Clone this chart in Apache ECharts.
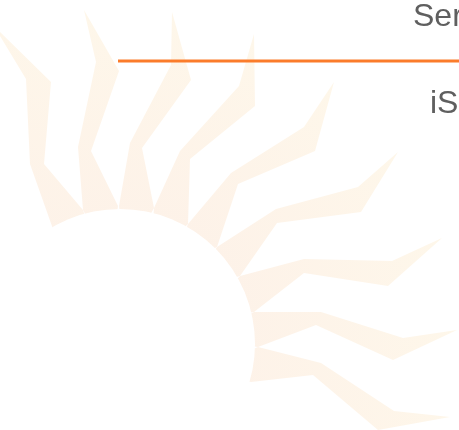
<!DOCTYPE html>
<html>
<head>
<meta charset="utf-8">
<script src="https://cdn.jsdelivr.net/npm/echarts@6/dist/echarts.min.js"></script>
<style>
  html, body { margin: 0; padding: 0; background: #fff; }
  #main { width: 459px; height: 430px; }
</style>
</head>
<body>
<div id="main"></div>
<script>
// 光芒 (每条射线的顶点，坐标为画布刻度)
var ray1 = [[-6, 26], [51, 82], [44, 164], [83, 210], [100, 260], [53, 229], [30, 164], [26, 79]];
var ray2 = [[84, 10], [119, 71], [91, 151], [118, 206], [110, 260], [83, 210], [78, 147], [96, 62]];
var ray3 = [[172, 12], [191, 80], [142, 148], [154, 208], [125, 260], [119, 206], [130, 143], [171, 65]];
var ray4 = [[254, 34], [255, 106], [190, 159], [188, 224], [150, 260], [154, 208], [180, 151], [239, 86]];
var ray5 = [[334, 82], [315, 151], [238, 184], [217, 247], [170, 270], [188, 224], [231, 173], [304, 127]];
var ray6 = [[398, 152], [361, 212], [277, 223], [240, 276], [190, 290], [217, 247], [276, 209], [358, 187]];
var ray7 = [[442, 238], [388, 286], [304, 273], [254, 312], [200, 320], [240, 276], [304, 259], [392, 261]];
var ray8 = [[457, 330], [393, 360], [316, 325], [258, 347], [200, 340], [254, 312], [321, 312], [403, 338]];
var ray9 = [[450, 417], [378, 430], [313, 375], [251, 382], [200, 370], [258, 347], [321, 363], [394, 411]];
var rays = [ray1, ray2, ray3, ray4, ray5, ray6, ray7, ray8, ray9];

// 太阳圆盘
var sunCenter = [120, 344];
var sunRadius = 135;

// 橙色分隔线
var lineY = 61;
var lineX = [118, 459];

// 文字
var titleText = 'Series';
var subText = 'iSeries';

var myChart = echarts.init(document.getElementById('main'));

var option = {
  animation: false,
  grid: { left: 0, right: 0, top: 0, bottom: 0 },
  xAxis: { type: 'value', min: 0, max: 459, show: false },
  yAxis: { type: 'value', min: 0, max: 430, inverse: true, show: false },
  series: [
    {
      type: 'custom',
      silent: true,
      clip: true,
      data: rays.map(function (r, i) { return [i]; }),
      renderItem: function (params, api) {
        var pts = rays[params.dataIndex].map(function (p) { return api.coord(p); });
        return {
          type: 'polygon',
          shape: { points: pts },
          style: {
            fill: new echarts.graphic.LinearGradient(0, 1, 1, 0, [
              { offset: 0, color: '#fdf1e8' },
              { offset: 1, color: '#fef7ea' }
            ])
          }
        };
      }
    },
    {
      type: 'custom',
      silent: true,
      clip: true,
      data: [sunCenter],
      renderItem: function (params, api) {
        var c = api.coord([api.value(0), api.value(1)]);
        var r = api.size([sunRadius, 0])[0];
        return {
          type: 'circle',
          shape: { cx: c[0], cy: c[1], r: r },
          style: { fill: '#ffffff' }
        };
      }
    },
    {
      type: 'line',
      silent: true,
      symbol: 'none',
      lineStyle: { color: '#fb7c2b', width: 3 },
      data: [[lineX[0], lineY], [lineX[1], lineY]]
    }
  ],
  graphic: [
    {
      type: 'text',
      left: 413,
      top: 1,
      style: { text: titleText, font: '32px "Liberation Sans", Arial, sans-serif', fill: '#5f5f5f' }
    },
    {
      type: 'text',
      left: 430,
      top: 88,
      style: { text: subText, font: '32px "Liberation Sans", Arial, sans-serif', fill: '#5f5f5f' }
    }
  ]
};

myChart.setOption(option);
</script>
</body>
</html>
